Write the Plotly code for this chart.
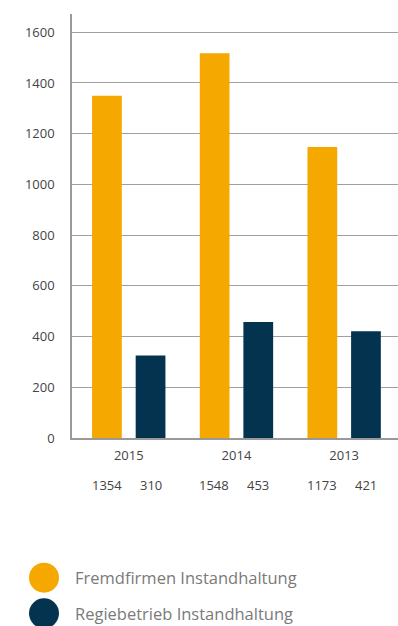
import plotly.graph_objects as go

# ---- data ----
years = ["2015", "2014", "2013"]
fremd = [1350, 1517, 1148]
regie = [325, 457, 421]
fremd_labels = ["1354", "1548", "1173"]
regie_labels = ["310", "453", "421"]
series_names = ["Fremdfirmen Instandhaltung", "Regiebetrieb Instandhaltung"]
y_ticks = [0, 200, 400, 600, 800, 1000, 1200, 1400, 1600]

# ---- style ----
ORANGE = "#F5A800"
NAVY = "#03334E"
FONT = "Open Sans"
W, H = 398, 626
ML, MR, MT, MB = 72, 0, 14, 188
PW, PH = W - ML - MR, H - MT - MB


def px_to_paper(px, py):
    return (px - ML) / PW, (H - MB - py) / PH


fig = go.Figure()
fig.add_bar(x=years, y=fremd, name=series_names[0], marker_color=ORANGE,
            marker_line_width=0, showlegend=False)
fig.add_bar(x=years, y=regie, name=series_names[1], marker_color=NAVY,
            marker_line_width=0, showlegend=False)

annotations = []
for i, (fl, rl) in enumerate(zip(fremd_labels, regie_labels)):
    for lab, shift in ((fl, -22), (rl, 22)):
        annotations.append(dict(x=i, xref="x", y=0, yref="paper", text=lab,
                                showarrow=False, xanchor="center", yanchor="middle",
                                xshift=shift, yshift=-47,
                                font=dict(family=FONT, size=13, color="#444")))

shapes = []
legend_colors = [ORANGE, NAVY]
legend_rows = [577.7, 613.3]
for name, col, ry in zip(series_names, legend_colors, legend_rows):
    cx, cy = px_to_paper(44, ry)
    shapes.append(dict(type="circle", xref="paper", yref="paper",
                       xsizemode="pixel", ysizemode="pixel",
                       xanchor=cx, yanchor=cy, x0=-15, x1=15, y0=-15, y1=15,
                       fillcolor=col, line_width=0))
    tx, ty = px_to_paper(73, ry)
    annotations.append(dict(x=tx, y=ty, xref="paper", yref="paper", text=name,
                            showarrow=False, xanchor="left", yanchor="middle",
                            font=dict(family=FONT, size=16.5, color="#7a7a7a")))

fig.update_layout(
    width=W, height=H,
    margin=dict(l=ML, r=MR, t=MT, b=MB, pad=0),
    paper_bgcolor="white", plot_bgcolor="white",
    barmode="group", bargap=0.19, bargroupgap=0.318,
    font=dict(family=FONT, size=13, color="#444"),
    annotations=annotations, shapes=shapes,
    showlegend=False,
)
fig.update_xaxes(type="category", range=[-0.527, len(years) - 0.5],
                 showline=True, linecolor="#999", linewidth=1.5,
                 showgrid=False, ticks="", ticklabelstandoff=5,
                 tickfont=dict(family=FONT, size=13, color="#444"))
fig.update_yaxes(range=[0, 1672], tickvals=y_ticks, showline=True, linecolor="#999",
                 linewidth=1.5, showgrid=True, gridcolor="#a0a0a0", gridwidth=1.2,
                 zeroline=False, ticks="", ticklabelstandoff=13,
                 tickfont=dict(family=FONT, size=13, color="#444"))

fig.write_html("out.html")
